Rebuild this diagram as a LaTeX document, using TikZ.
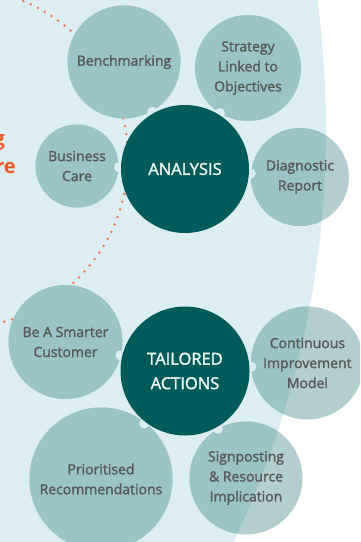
\documentclass[tikz,border=0pt]{standalone}
\usepackage{fontspec}
\setmainfont{Open Sans}
\newfontfamily\semib{Open Sans}[FakeBold=2]
\usetikzlibrary{calc,positioning}
\definecolor{bgblue}{RGB}{220,238,242}
\definecolor{satin}{RGB}{156,195,197}
\definecolor{satout}{RGB}{179,206,207}
\definecolor{hubcol}{RGB}{0,91,90}
\definecolor{sattext}{RGB}{88,91,93}
\definecolor{hubtext}{RGB}{234,242,242}
\definecolor{dotcol}{RGB}{240,118,92}
\definecolor{orangetxt}{RGB}{241,90,36}
\tikzset{
  sat/.style={circle,inner sep=0pt,minimum size=#1,align=center,
    fill=satout,text=sattext,font=\semib\fontsize{14}{20}\selectfont,
    path picture={\fill[satin] (bgc) circle[radius=959pt];}},
  hub/.style={circle,inner sep=0pt,minimum size=#1,align=center,
    fill=hubcol,text=hubtext,font=\semib\fontsize{16.5}{24.5}\selectfont},
  notch/.style={circle,fill=bgblue,inner sep=0pt,minimum size=10pt},
  dotline/.style={dotcol,line width=2.8pt,line cap=round,dash pattern=on 0pt off 8pt},
  sidetext/.style={anchor=base east,inner sep=0pt,text=orangetxt,
    font=\bfseries\fontsize{20}{28}\selectfont}
}
\begin{document}
\begin{tikzpicture}[x=1pt,y=-1pt]
  \useasboundingbox (0,0) rectangle (360,542);
  \clip (0,0) rectangle (360,542);
  \fill[white] (0,0) rectangle (360,542);

  \coordinate (bgc) at (-633,130);
  \coordinate (dc) at (-42,158);
  \coordinate (c1) at (185,169);
  \coordinate (c2) at (185,371);

  \fill[bgblue] (bgc) circle[radius=959pt];
  \draw[dotline] (dc) circle[radius=170pt];

  % analysis group
  \node [sat=113pt] (s1) at ($(c1)+(-61,-107)$) {Benchmarking};
  \node [sat=106pt] (s2) at ($(c1)+(63,-101)$) {Strategy\\Linked to\\Objectives};
  \node [sat=83pt] (s3) at ($(c1)+(-108,-3)$) {Business\\Care};
  \node [sat=98pt] (s4) at ($(c1)+(115,8)$) {Diagnostic\\Report};

  % tailored actions group
  \node [sat=114pt] (t1) at ($(c2)+(-119.5,-29)$) {Be A Smarter\\Customer};
  \node [sat=113pt] (t2) at ($(c2)+(122.4,-8)$) {Continuous\\Improvement\\Model};
  \node [sat=143pt] (t3) at ($(c2)+(-84,108)$) {Prioritised\\Recommendations};
  \node [sat=113pt] (t4) at ($(c2)+(61,107)$) {Signposting\\\& Resource\\Implication};

  \foreach \s in {s1,s2,s3,s4}
    \node [notch] at ($(c1)!66pt!(\s)$) {};
  \foreach \t in {t1,t2,t3,t4}
    \node [notch] at ($(c2)!66.5pt!(\t)$) {};

  \node [hub=128pt] (ana) at (c1) {ANALYSIS};
  \node [hub=129pt] (act) at (c2) {TAILORED\\ACTIONS};

  \node [sidetext] (w1) at (5,145) {g};
  \node [sidetext] (w2) at (16,173) {re};
\end{tikzpicture}
\end{document}
